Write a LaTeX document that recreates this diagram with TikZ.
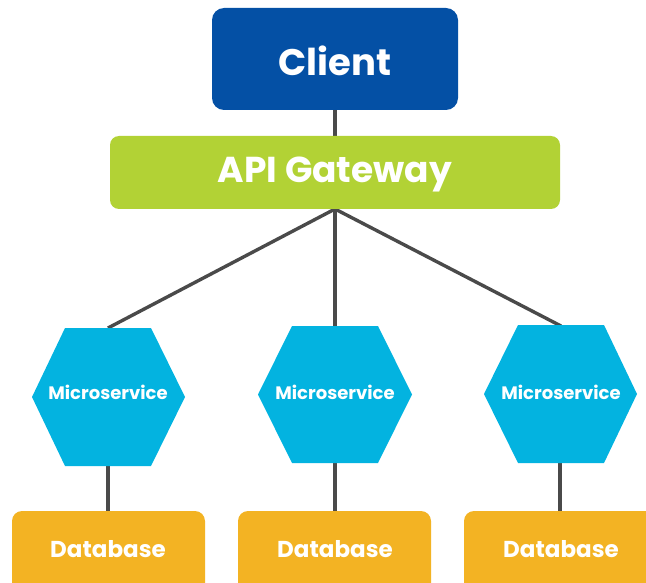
\documentclass[tikz,border=0pt]{standalone}
\usepackage{fontspec}
\setmainfont{Poppins}
\begin{document}
\begin{tikzpicture}[x=1pt,y=-1pt,
  box/.style={rounded corners=11pt, inner sep=0pt, font=\bfseries, text=white},
  conn/.style={draw=linegray, line width=3.4pt},
  hexfill/.style={fill=mscyan},
  hexlabel/.style={font=\bfseries\fontsize{18}{21}\selectfont, text=white, inner sep=0pt}
]
\definecolor{clientblue}{HTML}{0450A5}
\definecolor{gwgreen}{HTML}{B2D235}
\definecolor{mscyan}{HTML}{03B3E0}
\definecolor{dbyellow}{HTML}{F3B323}
\definecolor{linegray}{HTML}{4A4A4A}
\useasboundingbox (0,0) rectangle (646,583);
% anchor coordinates
\coordinate (gwb) at (335,209);
\coordinate (h1t) at (108,328); \coordinate (h1b) at (108,466);
\coordinate (h2t) at (335,326); \coordinate (h2b) at (335,463);
\coordinate (h3t) at (561,326); \coordinate (h3b) at (560,463);
\coordinate (d1t) at (108,512); \coordinate (d2t) at (335,512); \coordinate (d3t) at (560,512);
\coordinate (ct) at (335,110); \coordinate (gt) at (335,137);
% connectors
\draw[conn] (ct) -- (gt);
\draw[conn] (gwb) -- (h1t);
\draw[conn] (gwb) -- (h2t);
\draw[conn] (gwb) -- (h3t);
\draw[conn] (h1b) -- (d1t);
\draw[conn] (h2b) -- (d2t);
\draw[conn] (h3b) -- (d3t);
% client
\fill[clientblue, rounded corners=12pt] (212,8) rectangle (458,110);
\node[box, font=\bfseries\fontsize{37}{42}\selectfont] (client) at (335,61) {Client};
% gateway
\fill[gwgreen, rounded corners=9pt] (110,136) rectangle (560,209);
\node[box, font=\bfseries\fontsize{36}{40}\selectfont] (gateway) at (335,174) {API Gateway};
% hexagons
\fill[hexfill] (65,328) -- (151,328) -- (185,397) -- (151,466) -- (65,466) -- (32,397) -- cycle;
\fill[hexfill] (292,326) -- (378,326) -- (412,394.5) -- (378,463) -- (292,463) -- (258,394.5) -- cycle;
\fill[hexfill] (518,325) -- (604,325) -- (637,394) -- (604,463) -- (518,463) -- (484,394) -- cycle;
\node[hexlabel] (ms1) at (108,392) {Microservice};
\node[hexlabel] (ms2) at (335,392) {Microservice};
\node[hexlabel] (ms3) at (561,392) {Microservice};
% databases
\fill[dbyellow, rounded corners=10pt] (12,511) rectangle (205,595);
\fill[dbyellow, rounded corners=10pt] (238,511) rectangle (431,595);
\fill[dbyellow, rounded corners=10pt] (464,511) rectangle (660,595);
\node[box, font=\bfseries\fontsize{23}{27}\selectfont] (db1) at (108,549) {Database};
\node[box, font=\bfseries\fontsize{23}{27}\selectfont] (db2) at (335,549) {Database};
\node[box, font=\bfseries\fontsize{23}{27}\selectfont] (db3) at (561,549) {Database};
\end{tikzpicture}
\end{document}
